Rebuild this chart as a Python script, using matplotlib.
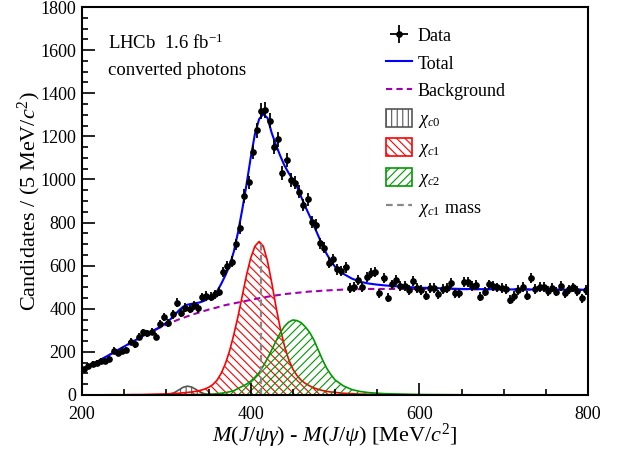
import numpy as np
import matplotlib
matplotlib.use("Agg")
import matplotlib.pyplot as plt
from matplotlib.ticker import MultipleLocator

plt.rcParams["font.family"] = ["Liberation Serif", "DejaVu Serif"]
plt.rcParams["mathtext.fontset"] = "custom"
plt.rcParams["mathtext.rm"] = "Liberation Serif"
plt.rcParams["mathtext.it"] = "Liberation Serif:italic"
plt.rcParams["mathtext.bf"] = "Liberation Serif:bold"
plt.rcParams["hatch.linewidth"] = 0.8

# binned data, 5 MeV bins from 200 to 800
mass_lo, mass_hi, bin_width = 200.0, 800.0, 5.0
counts = [119, 134, 144, 150, 159, 158, 168, 206, 196, 206,
          210, 247, 235, 270, 291, 286, 294, 270, 328, 360,
          335, 374, 428, 379, 405, 399, 417, 402, 453, 459,
          456, 467, 479, 572, 598, 618, 699, 776, 923, 986,
          1128, 1229, 1318, 1322, 1272, 1150, 1186, 1028, 1090, 997,
          985, 943, 881, 908, 804, 788, 704, 683, 614, 629,
          583, 576, 592, 495, 502, 535, 500, 546, 565, 572,
          472, 541, 451, 513, 533, 507, 507, 486, 530, 495,
          488, 461, 495, 495, 467, 492, 495, 518, 472, 472,
          523, 526, 505, 510, 456, 479, 513, 507, 499, 495,
          492, 441, 459, 487, 502, 461, 541, 492, 502, 502,
          482, 498, 479, 507, 472, 490, 499, 482, 448, 487]

# fit curves
fit_x = [200, 210, 220, 230, 240, 250, 260, 270, 280, 290,
         300, 305, 310, 315, 320, 325, 330, 335, 340, 345,
         350, 355, 360, 365, 370, 375, 380, 385, 390, 395,
         400, 405, 410, 415, 420, 425, 430, 435, 440, 445,
         450, 455, 460, 465, 470, 475, 480, 485, 490, 495,
         500, 510, 520, 530, 540, 550, 560, 580, 600, 650,
         700, 750, 800]
total = [118, 138, 159, 181, 203, 225, 247, 269, 290, 310,
         335, 352, 372, 393, 410, 419, 423, 426, 430, 437,
         448, 460, 480, 515, 555, 600, 665, 755, 860, 975,
         1100, 1210, 1280, 1303, 1285, 1215, 1160, 1110, 1065, 1030,
         1000, 965, 918, 872, 830, 785, 740, 695, 655, 622,
         595, 562, 540, 525, 517, 512, 508, 502, 498, 492,
         490, 489, 488]
background = [115, 137, 158, 180, 202, 224, 246, 268, 289, 308,
              326, 335, 343, 351, 358, 365, 372, 378, 384, 390,
              396, 401, 406, 412, 417, 421, 425, 429, 433, 437,
              441, 445, 449, 452, 456, 459, 462, 465, 468, 470,
              472, 474, 476, 478, 480, 481, 482, 484, 485, 486,
              487, 489, 490, 491, 492, 492, 492, 492, 492, 491,
              490, 489, 488]
chic0 = [0, 0, 0, 0, 0, 0, 0, 0, 0, 0,
         2, 5, 12, 24, 36, 41, 37, 26, 14, 6,
         2, 1, 0, 0, 0, 0, 0, 0, 0, 0,
         0, 0, 0, 0, 0, 0, 0, 0, 0, 0,
         0, 0, 0, 0, 0, 0, 0, 0, 0, 0,
         0, 0, 0, 0, 0, 0, 0, 0, 0, 0,
         0, 0, 0]
chic1 = [0, 0, 0, 1, 1, 1, 2, 2, 3, 4,
         5, 6, 7, 8, 10, 12, 14, 17, 21, 27,
         35, 48, 68, 100, 145, 205, 280, 365, 460, 555,
         635, 690, 712, 690, 620, 520, 410, 310, 228, 165,
         120, 90, 68, 53, 42, 33, 26, 21, 17, 14,
         12, 8, 6, 4, 3, 2, 2, 1, 1, 0,
         0, 0, 0]
chic2 = [0, 0, 0, 0, 0, 0, 0, 0, 0, 0,
         0, 0, 1, 1, 1, 1, 2, 2, 2, 3,
         3, 4, 6, 8, 11, 15, 20, 30, 40, 50,
         64, 82, 104, 135, 170, 210, 250, 288, 318, 338,
         348, 345, 335, 315, 290, 255, 210, 165, 125, 95,
         70, 42, 25, 16, 11, 8, 6, 4, 2, 1,
         0, 0, 0]
chic1_mass = 412.5
chic1_mass_top = 705

centers = np.arange(mass_lo + bin_width / 2, mass_hi, bin_width)
counts = np.array(counts)

fig = plt.figure(figsize=(6.18, 4.49), dpi=100)
ax = fig.add_axes([0.1327, 0.1203, 0.8188, 0.8641])

h0 = ax.fill_between(fit_x, 0, chic0, facecolor="none", edgecolor="#555555",
                     hatch="|||", linewidth=1.2)
h1 = ax.fill_between(fit_x, 0, chic1, facecolor="none", edgecolor="#ff0000",
                     hatch="\\\\\\\\", linewidth=1.2)
h2 = ax.fill_between(fit_x, 0, chic2, facecolor="none", edgecolor="#009900",
                     hatch="////", linewidth=1.2)
hm, = ax.plot([chic1_mass, chic1_mass], [0, chic1_mass_top], color="#888888",
              ls=(0, (3, 2)), lw=1.6)
hb, = ax.plot(fit_x, background, color="#a000b0", ls=(0, (3, 2)), lw=1.5)
ht, = ax.plot(fit_x, total, color="#0000ff", lw=1.5)
hd = ax.errorbar(centers, counts, yerr=np.sqrt(counts), xerr=bin_width / 2,
                 fmt="o", color="black", ms=3.8, elinewidth=1.3, capsize=0)

ax.set_xlim(200, 800)
ax.set_ylim(0, 1800)
ax.xaxis.set_major_locator(MultipleLocator(200))
ax.xaxis.set_minor_locator(MultipleLocator(50))
ax.yaxis.set_major_locator(MultipleLocator(200))
ax.yaxis.set_minor_locator(MultipleLocator(50))
ax.tick_params(which="both", direction="in", top=False, right=False,
               labelsize=13, width=1.2)
ax.tick_params(axis="x", pad=8)
ax.tick_params(axis="y", pad=4)
ax.tick_params(which="major", length=9)
ax.tick_params(which="minor", length=4.5)
for s in ax.spines.values():
    s.set_linewidth(1.5)

ax.set_xlabel(r"$M(J/\psi\gamma)$ - $M(J/\psi)$ [MeV/$c^2$]", fontsize=16, labelpad=-1)
ax.set_ylabel(r"Candidates / (5 MeV/$c^2$)", fontsize=16, labelpad=-2)

fig.text(0.175, 0.904, r"LHCb  1.6 fb$^{-1}$", fontsize=13.5, va="center")
fig.text(0.175, 0.844, "converted photons", fontsize=13.5, va="center")

ax.legend([hd, ht, hb, h0, h1, h2, hm],
          ["Data", "Total", "Background", r"$\chi_{c0}$", r"$\chi_{c1}$",
           r"$\chi_{c2}$", r"$\chi_{c1}$ mass"],
          loc="upper left", bbox_to_anchor=(0.610, 0.962),
          bbox_transform=fig.transFigure, frameon=False, fontsize=13,
          handlelength=1.45, handleheight=1.15, handletextpad=0.3,
          labelspacing=0.47, borderpad=0)

fig.savefig("out.png", dpi=100)
